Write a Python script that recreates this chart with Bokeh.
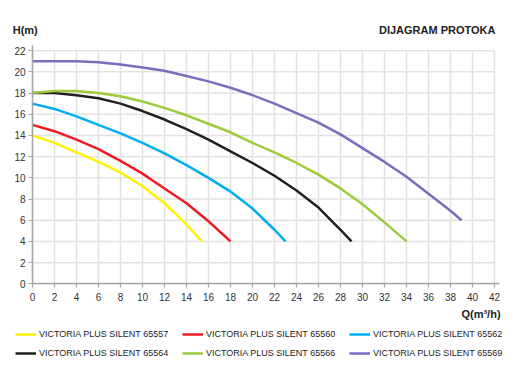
from bokeh.plotting import figure
from bokeh.models import Range1d, FixedTicker, Label, Legend, LegendItem
from bokeh.embed import file_html
from bokeh.resources import INLINE

names = ["VICTORIA PLUS SILENT 65557", "VICTORIA PLUS SILENT 65560", "VICTORIA PLUS SILENT 65562",
         "VICTORIA PLUS SILENT 65564", "VICTORIA PLUS SILENT 65566", "VICTORIA PLUS SILENT 65569"]
colors = ["#fff200", "#ed1c24", "#00aeef", "#231f20", "#9dcb3b", "#7b6cc0"]

q_65557 = [0, 2, 4, 6, 8, 10, 12, 14, 15.4]
h_65557 = [14.0, 13.3, 12.4, 11.5, 10.5, 9.2, 7.6, 5.6, 4.0]

q_65560 = [0, 2, 4, 6, 8, 10, 12, 14, 16, 18]
h_65560 = [15.0, 14.4, 13.6, 12.7, 11.6, 10.4, 9.0, 7.6, 5.9, 4.0]

q_65562 = [0, 2, 4, 6, 8, 10, 12, 14, 16, 18, 20, 22, 23]
h_65562 = [17.0, 16.5, 15.8, 15.0, 14.2, 13.3, 12.3, 11.2, 10.0, 8.7, 7.1, 5.1, 4.0]

q_65564 = [0, 2, 4, 6, 8, 10, 12, 14, 16, 18, 20, 22, 24, 26, 28, 29]
h_65564 = [18.0, 18.0, 17.8, 17.5, 17.0, 16.3, 15.5, 14.6, 13.6, 12.5, 11.4, 10.2, 8.8, 7.2, 5.1, 4.0]

q_65566 = [0, 2, 4, 6, 8, 10, 12, 14, 16, 18, 20, 22, 24, 26, 28, 30, 32, 34]
h_65566 = [18.0, 18.2, 18.2, 18.0, 17.7, 17.2, 16.6, 15.9, 15.1, 14.3, 13.3, 12.4, 11.4, 10.3, 9.0, 7.5, 5.8, 4.0]

q_65569 = [0, 2, 4, 6, 8, 10, 12, 14, 16, 18, 20, 22, 24, 26, 28, 30, 32, 34, 36, 38, 39]
h_65569 = [21.0, 21.0, 21.0, 20.9, 20.7, 20.4, 20.1, 19.6, 19.1, 18.5, 17.8, 17.0, 16.1, 15.2, 14.1,
           12.8, 11.5, 10.1, 8.5, 6.9, 6.0]

x_ticks = list(range(0, 43, 2))
y_ticks = list(range(0, 23, 2))

series_q = [q_65557, q_65560, q_65562, q_65564, q_65566, q_65569]
series_h = [h_65557, h_65560, h_65562, h_65564, h_65566, h_65569]

FONT = "Liberation Sans"

p = figure(width=524, height=366, output_backend="svg", toolbar_location=None,
           x_range=Range1d(-2.909, 44.727), y_range=Range1d(-7.80, 26.73),
           min_border_left=0, min_border_right=0, min_border_top=0, min_border_bottom=0)
p.title.visible = False
p.outline_line_color = None
p.background_fill_color = "white"
p.border_fill_color = "white"
p.xgrid.visible = False
p.ygrid.visible = False

# grid lines limited to the tick extent
p.segment(x0=x_ticks, y0=[0] * len(x_ticks), x1=x_ticks, y1=[y_ticks[-1]] * len(x_ticks),
          line_color="#e2e2e2", line_width=1.5)
p.segment(x0=[0] * len(y_ticks), y0=y_ticks, x1=[x_ticks[-1]] * len(y_ticks), y1=y_ticks,
          line_color="#e2e2e2", line_width=1.5)

for ax, ticks in ((p.xaxis[0], x_ticks), (p.yaxis[0], y_ticks)):
    ax.ticker = FixedTicker(ticks=ticks)
    ax.fixed_location = 0
    ax.axis_line_color = "#a6a6a6"
    ax.axis_line_width = 1.5
    ax.major_tick_line_color = "#a6a6a6"
    ax.major_tick_line_width = 1.2
    ax.major_tick_out = 4
    ax.major_tick_in = 0
    ax.minor_tick_line_color = None
    ax.major_label_text_font = FONT
    ax.major_label_text_font_size = "10px"
    ax.major_label_text_color = "#333333"
p.xaxis[0].bounds = (0, 42.45)
p.yaxis[0].bounds = (0, 22.45)
p.xaxis.major_label_standoff = 5
p.yaxis.major_label_standoff = 3

items = []
for name, col, q, h in zip(names, colors, series_q, series_h):
    r = p.line(q, h, line_color=col, line_width=2.5, line_join="round")
    items.append(LegendItem(label=name, renderers=[r]))

legend = Legend(items=items, orientation="horizontal", ncols=3,
                location=(15, 6), padding=0, margin=0,
                glyph_width=21, glyph_height=14, label_height=14, label_width=138,
                label_standoff=3, spacing=5,
                label_text_font=FONT, label_text_font_size="9px", label_text_color="#222222",
                border_line_alpha=0, background_fill_alpha=0)
p.add_layout(legend)

p.add_layout(Label(x=-1.8, y=23.9, text="H(m)", text_font=FONT, text_font_size="11px",
                   text_font_style="bold", text_color="#222222", text_baseline="middle", text_align="left"))
p.add_layout(Label(x=42.09, y=23.9, text="DIJAGRAM PROTOKA", text_font=FONT, text_font_size="11px",
                   text_font_style="bold", text_color="#222222", text_baseline="middle", text_align="right"))
p.add_layout(Label(x=42.55, y=-2.8, text="Q(m³/h)", text_font=FONT, text_font_size="11px",
                   text_font_style="bold", text_color="#222222", text_baseline="middle", text_align="right"))

open("out.html", "w").write(file_html(p, INLINE))
